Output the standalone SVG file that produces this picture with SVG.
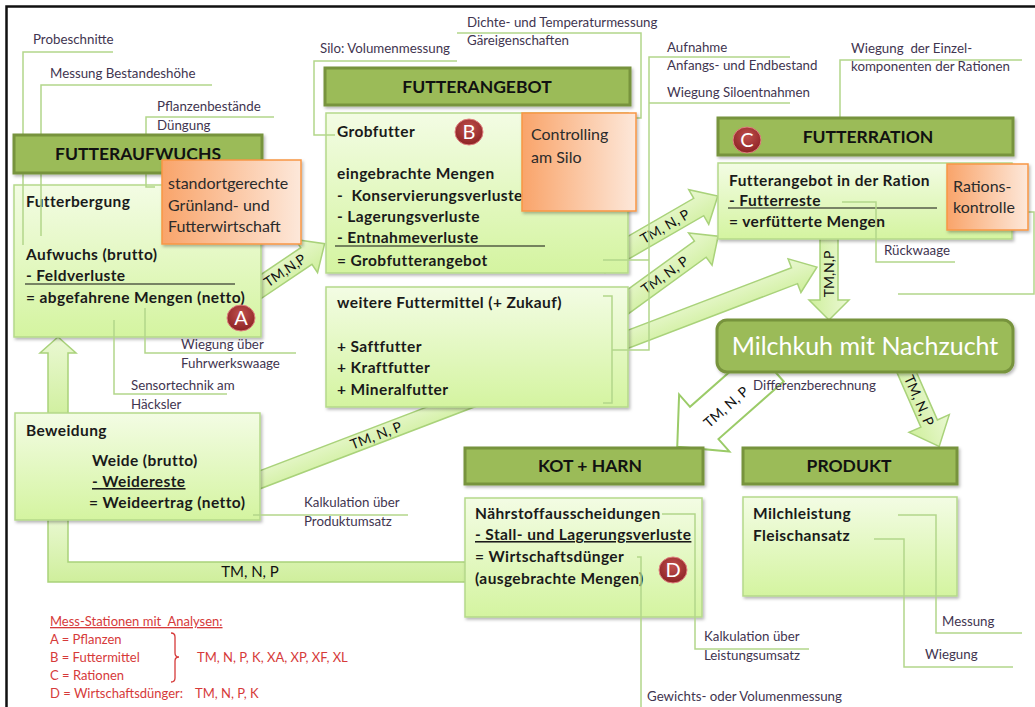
<svg xmlns="http://www.w3.org/2000/svg" width="1035" height="707" viewBox="0 0 1035 707">
<defs>
<linearGradient id="gLight" x1="0" y1="0" x2="0" y2="1">
<stop offset="0" stop-color="#F3FCE4"/>
<stop offset="1" stop-color="#D4F4A0"/>
</linearGradient>
<linearGradient id="gOrange" x1="0" y1="0" x2="1" y2="0">
<stop offset="0" stop-color="#F9A46A"/>
<stop offset="1" stop-color="#FDE8DA"/>
</linearGradient>
<linearGradient id="gArrow" x1="0" y1="0" x2="0" y2="1">
<stop offset="0" stop-color="#EAF8D3"/>
<stop offset="1" stop-color="#CFEF9C"/>
</linearGradient>
<radialGradient id="gCircle" cx="0.5" cy="0.35" r="0.65">
<stop offset="0" stop-color="#C0504D"/>
<stop offset="1" stop-color="#8C2224"/>
</radialGradient>
<filter id="sh" x="-5%" y="-5%" width="115%" height="125%">
<feDropShadow dx="1.5" dy="2" stdDeviation="1.5" flood-color="#000" flood-opacity="0.28"/>
</filter>
</defs>
<style>
.hdr{fill:#9BBB59;stroke:#77933C;stroke-width:3}
.box{fill:url(#gLight);stroke:#B5D98A;stroke-width:1.5}
.org{fill:url(#gOrange);stroke:#F79646;stroke-width:1.5}
.arr{fill:url(#gArrow);stroke:#A9D27A;stroke-width:1.5}
.arw{fill:#FFFFFF;stroke:#9BCB68;stroke-width:2}
.co{fill:none;stroke:#B3D68A;stroke-width:1.5}
.ul{stroke:#111;stroke-width:1.2}
text{font-family:Lato,"Liberation Sans",sans-serif}
.ht{font-weight:bold;font-size:17.5px;fill:#111;text-anchor:middle}
.b{font-weight:bold;font-size:15.5px;fill:#1a1a1a;letter-spacing:0.4px;white-space:pre}
.o{font-size:16px;fill:#2b2b2b}
.c{font-size:13.3px;fill:#3f3550;white-space:pre}
.a{font-size:14px;fill:#111;text-anchor:middle}
.lg{font-size:13px;fill:#D63A3A;white-space:pre}
.mk{font-size:25px;fill:#FFFFFF;text-anchor:middle}
.ci{fill:url(#gCircle);stroke:#E08080;stroke-width:1}
.cl{font-size:20px;fill:#FFFFFF;text-anchor:middle}
</style>

<path d="M6.5,707 V6.5 H1035" fill="none" stroke="#111" stroke-width="2.5"/>

<g id="connectors">
<path class="arr" d="M48,515 V582 H468 V562 H68 V515 Z"/>
<text class="a" x="250" y="577" style="font-size:15px">TM, N, P</text>
<polygon class="arr" points="48,420 48,353 40,353 58,337 76,353 68,353 68,420"/>
<g transform="translate(250.8,483.3) rotate(-20.9)">
<polygon class="arr" points="0,-8.5 582,-8.5 582,-18 606,0 582,18 582,8.5 0,8.5"/>
<text class="a" x="134" y="5">TM, N, P</text>
</g>
<g transform="translate(250,294) rotate(-34)">
<polygon class="arr" points="0,-10 68,-10 68,-20 90,0 68,20 68,10 0,10"/>
<text class="a" x="42" y="5">TM,N,P</text>
</g>
<g transform="translate(600,264) rotate(-30)">
<polygon class="arr" points="0,-10 114,-10 114,-20 136,0 114,20 114,10 0,10"/>
<text class="a" x="75" y="5">TM, N, P</text>
</g>
<g transform="translate(600,322) rotate(-36)">
<polygon class="arr" points="0,-10 124,-10 124,-20 146,0 124,20 124,10 0,10"/>
<text class="a" x="80" y="5">TM, N, P</text>
</g>
<g transform="translate(829,232) rotate(90)">
<polygon class="arr" points="0,-9 68,-9 68,-20 88,0 68,20 68,9 0,9"/>
</g>
<text class="a" transform="translate(834,274) rotate(-90)" x="0" y="0">TM,N,P</text>
<g transform="translate(769.5,365.4) rotate(138.6)">
<polygon class="arw" points="0,-21.5 87,-21.5 87,-38 123,0 87,38 87,21.5 0,21.5"/>
</g>
<text class="a" transform="translate(726,407) rotate(-41.4)" x="0" y="5">TM, N, P</text>
<g transform="translate(903,364) rotate(66.3)">
<polygon class="arr" points="0,-9 65,-9 65,-22 90,0 65,22 65,9 0,9"/>
<text class="a" x="40" y="5">TM, N, P</text>
</g>
</g>

<g id="futterbergung">
<rect class="box" x="14" y="185" width="247" height="152" filter="url(#sh)"/>
<text class="b" x="26" y="207">Futterbergung</text>
<text class="b" x="26" y="260">Aufwuchs (brutto)</text>
<text class="b" x="26" y="281">- Feldverluste</text>
<line class="ul" x1="25" y1="284" x2="235" y2="284"/>
<text class="b" x="26" y="303">= abgefahrene Mengen (netto)</text>
</g>
<g id="grobfutter">
<rect class="box" x="326" y="113" width="302" height="160" filter="url(#sh)"/>
<text class="b" x="337" y="137">Grobfutter</text>
<text class="b" x="337" y="179">eingebrachte Mengen</text>
<text class="b" x="337" y="201">-  Konservierungsverluste</text>
<text class="b" x="337" y="222">- Lagerungsverluste</text>
<text class="b" x="337" y="243">- Entnahmeverluste</text>
<line class="ul" x1="335" y1="246" x2="545" y2="246"/>
<text class="b" x="337" y="266">= Grobfutterangebot</text>
</g>
<g id="weitere">
<rect class="box" x="326" y="287" width="302" height="120" filter="url(#sh)"/>
<text class="b" x="337" y="308">weitere Futtermittel (+ Zukauf)</text>
<text class="b" x="337" y="352">+ Saftfutter</text>
<text class="b" x="337" y="373">+ Kraftfutter</text>
<text class="b" x="337" y="395">+ Mineralfutter</text>
</g>
<g id="ration">
<rect class="box" x="718" y="163" width="294" height="76" filter="url(#sh)"/>
<text class="b" x="729" y="186">Futterangebot in der Ration</text>
<text class="b" x="729" y="206">- Futterreste</text>
<line class="ul" x1="728" y1="208" x2="937" y2="208"/>
<text class="b" x="729" y="227">= verfütterte Mengen</text>
</g>
<g id="beweidung">
<rect class="box" x="15" y="413" width="245" height="107" filter="url(#sh)"/>
<text class="b" x="26" y="436">Beweidung</text>
<text class="b" x="92" y="466">Weide (brutto)</text>
<text class="b" x="92" y="487" text-decoration="underline">- Weidereste</text>
<text class="b" x="89" y="508">= Weideertrag (netto)</text>
</g>
<g id="naehrstoff">
<rect class="box" x="465" y="498" width="237" height="119" filter="url(#sh)"/>
<text class="b" x="475" y="519">Nährstoffausscheidungen</text>
<text class="b" x="475" y="540" text-decoration="underline">- Stall- und Lagerungsverluste</text>
<text class="b" x="475" y="562">= Wirtschaftsdünger</text>
<text class="b" x="475" y="584">(ausgebrachte Mengen)</text>
</g>
<g id="produktbox">
<rect class="box" x="743" y="497" width="214" height="99" filter="url(#sh)"/>
<text class="b" x="753" y="519">Milchleistung</text>
<text class="b" x="753" y="541">Fleischansatz</text>
</g>

<g id="callouts">
<path class="co" d="M113,52 H23 V245"/>
<path class="co" d="M212,85 H41 V236"/>
<path class="co" d="M274,117 H146 V187 H155"/>
<path class="co" d="M457,61 H314 V135 H335"/>
<path class="co" d="M457,33 H641 V118 H628"/>
<path class="co" d="M790,57 H649 V350 H612 M790,103 H649 M603,260 H649 M603,296 H612 V403 H603"/>
<path class="co" d="M1022,60 H840 V118"/>
<path class="co" d="M842,202 H876 V262 H955"/>
<path class="co" d="M1022,212 H1034 V294 H898"/>
<path class="co" d="M145,308 V353 H296"/>
<path class="co" d="M114,320 V394 H227"/>
<path class="co" d="M253,515 H408"/>
<path class="co" d="M662,514 H695 V649 H809"/>
<path class="co" d="M637,557 H641 V707"/>
<path class="co" d="M898,515 H936 V633 H1022"/>
<path class="co" d="M874,539 H904 V667 H1013"/>
<text class="c" x="33" y="44">Probeschnitte</text>
<text class="c" x="50" y="78">Messung Bestandeshöhe</text>
<text class="c" x="157" y="111">Pflanzenbestände</text>
<text class="c" x="157" y="130">Düngung</text>
<text class="c" x="320" y="53">Silo: Volumenmessung</text>
<text class="c" x="467" y="27">Dichte- und Temperaturmessung</text>
<text class="c" x="467" y="45">Gäreigenschaften</text>
<text class="c" x="667" y="52">Aufnahme</text>
<text class="c" x="667" y="70">Anfangs- und Endbestand</text>
<text class="c" x="667" y="97">Wiegung Siloentnahmen</text>
<text class="c" x="851" y="53">Wiegung  der Einzel-</text>
<text class="c" x="851" y="71">komponenten der Rationen</text>
<text class="c" x="884" y="255">Rückwaage</text>
<text class="c" x="181" y="349">Wiegung über</text>
<text class="c" x="181" y="368">Fuhrwerkswaage</text>
<text class="c" x="131" y="390">Sensortechnik am</text>
<text class="c" x="131" y="409">Häcksler</text>
<text class="c" x="304" y="507">Kalkulation über</text>
<text class="c" x="304" y="526">Produktumsatz</text>
<text class="c" x="753" y="390">Differenzberechnung</text>
<text class="c" x="704" y="641">Kalkulation über</text>
<text class="c" x="704" y="660">Leistungsumsatz</text>
<text class="c" x="647" y="701">Gewichts- oder Volumenmessung</text>
<text class="c" x="942" y="626">Messung</text>
<text class="c" x="925" y="659">Wiegung</text>
</g>

<g id="futteraufwuchs">
<rect class="hdr" x="14" y="135" width="248" height="38" filter="url(#sh)"/>
<text class="ht" x="138" y="160">FUTTERAUFWUCHS</text>
</g>
<g id="futterangebot">
<rect class="hdr" x="325" y="68" width="305" height="37" filter="url(#sh)"/>
<text class="ht" x="477" y="93">FUTTERANGEBOT</text>
</g>
<g id="futterration">
<rect class="hdr" x="718" y="118" width="295" height="37" filter="url(#sh)"/>
<text class="ht" x="868" y="143">FUTTERRATION</text>
</g>
<g id="kotharn">
<rect class="hdr" x="465" y="448" width="238" height="36" filter="url(#sh)"/>
<text class="ht" x="590" y="472">KOT + HARN</text>
</g>
<g id="produkt">
<rect class="hdr" x="743" y="448" width="214" height="36" filter="url(#sh)"/>
<text class="ht" x="849" y="472">PRODUKT</text>
</g>
<g id="milchkuh">
<rect class="hdr" x="717" y="320" width="296" height="52" rx="10" filter="url(#sh)"/>
<text class="mk" x="865" y="355">Milchkuh mit Nachzucht</text>
</g>

<g id="standort">
<rect class="org" x="162" y="160" width="139" height="84" filter="url(#sh)"/>
<text class="o" x="168" y="189">standortgerechte</text>
<text class="o" x="168" y="211">Grünland- und</text>
<text class="o" x="168" y="232">Futterwirtschaft</text>
</g>
<g id="controlling">
<rect class="org" x="522" y="113" width="114" height="98" filter="url(#sh)"/>
<text class="o" x="531" y="140">Controlling</text>
<text class="o" x="531" y="163">am Silo</text>
</g>
<g id="rationskontrolle">
<rect class="org" x="947" y="164" width="81" height="66" filter="url(#sh)"/>
<text class="o" x="953" y="192">Rations-</text>
<text class="o" x="953" y="213">kontrolle</text>
</g>

<g id="stationA"><ellipse class="ci" cx="241" cy="318" rx="14" ry="13"/><text class="cl" x="241" y="325">A</text></g>
<g id="stationB"><ellipse class="ci" cx="469" cy="132" rx="14" ry="13"/><text class="cl" x="469" y="139">B</text></g>
<g id="stationC"><ellipse class="ci" cx="747" cy="140" rx="14" ry="13"/><text class="cl" x="747" y="147">C</text></g>
<g id="stationD"><ellipse class="ci" cx="673" cy="570" rx="14" ry="13"/><text class="cl" x="673" y="577">D</text></g>

<g id="legend">
<text class="lg" x="50" y="626" text-decoration="underline">Mess-Stationen mit  Analysen:</text>
<text class="lg" x="50" y="644">A = Pflanzen</text>
<text class="lg" x="50" y="662">B = Futtermittel</text>
<text class="lg" x="50" y="680">C = Rationen</text>
<text class="lg" x="50" y="698">D = Wirtschaftsdünger:</text>
<text class="lg" x="195" y="698">TM, N, P, K</text>
<text class="lg" x="197" y="662">TM, N, P, K, XA, XP, XF, XL</text>
<path d="M171,633 Q175,633 175,637 V653 Q175,657 179,657 Q175,657 175,661 V678 Q175,682 171,682" fill="none" stroke="#D63A3A" stroke-width="1.3"/>
</g>
</svg>
